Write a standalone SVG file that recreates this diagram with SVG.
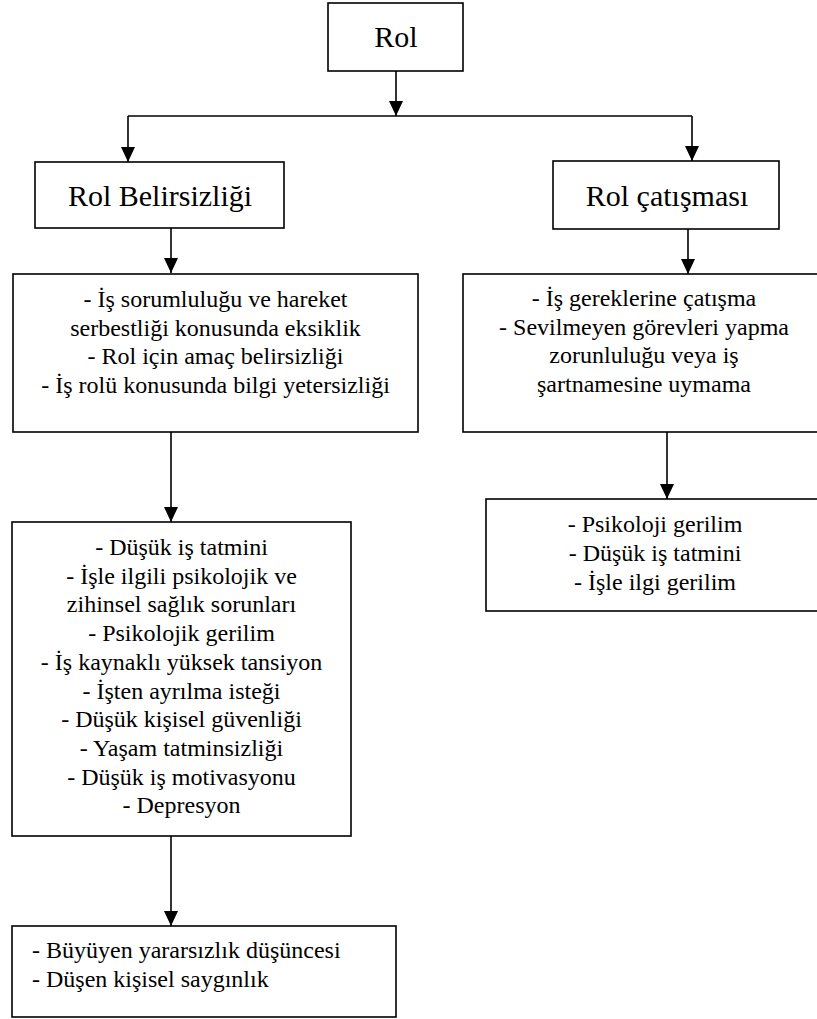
<svg xmlns="http://www.w3.org/2000/svg" width="817" height="1019" viewBox="0 0 817 1019">
<defs>
<marker id="a" markerWidth="15" markerHeight="14" refX="15" refY="7" orient="auto" markerUnits="userSpaceOnUse" viewBox="0 0 15 14">
<path d="M0,0 L15,7 L0,14 Z" fill="#000"/>
</marker>
</defs>
<g id="connectors" fill="none" stroke="#000" stroke-width="1.6">
<line x1="396" y1="71" x2="396" y2="116" marker-end="url(#a)"/>
<line x1="128" y1="116" x2="692" y2="116"/>
<line x1="128" y1="116" x2="128" y2="162" marker-end="url(#a)"/>
<line x1="692" y1="116" x2="692" y2="161" marker-end="url(#a)"/>
<line x1="171" y1="228" x2="171" y2="273" marker-end="url(#a)"/>
<line x1="688" y1="229" x2="688" y2="274" marker-end="url(#a)"/>
<line x1="171" y1="432" x2="171" y2="522" marker-end="url(#a)"/>
<line x1="667" y1="432" x2="667" y2="499" marker-end="url(#a)"/>
<line x1="171" y1="836" x2="171" y2="926" marker-end="url(#a)"/>
</g>
<g id="rol">
<rect x="328" y="3" width="135" height="68" fill="#fff" stroke="#000" stroke-width="1.6"/>
<text x="396" y="47" font-family="Liberation Serif" font-size="30" text-anchor="middle">Rol</text>
</g>
<g id="rol-belirsizligi">
<rect x="35" y="162" width="249" height="66" fill="#fff" stroke="#000" stroke-width="1.6"/>
<text x="160" y="206" font-family="Liberation Serif" font-size="30" text-anchor="middle">Rol Belirsizliği</text>
</g>
<g id="rol-catismasi">
<rect x="553" y="161" width="226" height="68" fill="#fff" stroke="#000" stroke-width="1.6"/>
<text x="667" y="206" font-family="Liberation Serif" font-size="30" text-anchor="middle">Rol çatışması</text>
</g>
<g id="belirsizlik-nedenleri">
<rect x="13" y="274" width="405" height="158" fill="#fff" stroke="#000" stroke-width="1.6"/>
<text x="215.5" y="307" font-family="Liberation Serif" font-size="24" text-anchor="middle">- İş sorumluluğu ve hareket</text>
<text x="215.5" y="336" font-family="Liberation Serif" font-size="24" text-anchor="middle">serbestliği konusunda eksiklik</text>
<text x="215.5" y="364" font-family="Liberation Serif" font-size="24" text-anchor="middle">- Rol için amaç belirsizliği</text>
<text x="215.5" y="393" font-family="Liberation Serif" font-size="24" text-anchor="middle">- İş rolü konusunda bilgi yetersizliği</text>
</g>
<g id="catisma-nedenleri">
<rect x="463" y="274" width="363" height="158" fill="#fff" stroke="#000" stroke-width="1.6"/>
<text x="644" y="306" font-family="Liberation Serif" font-size="24" text-anchor="middle">- İş gereklerine çatışma</text>
<text x="644" y="335" font-family="Liberation Serif" font-size="24" text-anchor="middle">- Sevilmeyen görevleri yapma</text>
<text x="644" y="363" font-family="Liberation Serif" font-size="24" text-anchor="middle">zorunluluğu veya iş</text>
<text x="644" y="392" font-family="Liberation Serif" font-size="24" text-anchor="middle">şartnamesine uymama</text>
</g>
<g id="catisma-sonuclari">
<rect x="486" y="499" width="340" height="112" fill="#fff" stroke="#000" stroke-width="1.6"/>
<text x="655" y="532" font-family="Liberation Serif" font-size="24" text-anchor="middle">- Psikoloji gerilim</text>
<text x="655" y="561" font-family="Liberation Serif" font-size="24" text-anchor="middle">- Düşük iş tatmini</text>
<text x="655" y="590" font-family="Liberation Serif" font-size="24" text-anchor="middle">- İşle ilgi gerilim</text>
</g>
<g id="belirsizlik-sonuclari">
<rect x="12" y="522" width="339" height="314" fill="#fff" stroke="#000" stroke-width="1.6"/>
<text x="181.5" y="555" font-family="Liberation Serif" font-size="24" text-anchor="middle">- Düşük iş tatmini</text>
<text x="181.5" y="584" font-family="Liberation Serif" font-size="24" text-anchor="middle">- İşle ilgili psikolojik ve</text>
<text x="181.5" y="612" font-family="Liberation Serif" font-size="24" text-anchor="middle">zihinsel sağlık sorunları</text>
<text x="181.5" y="641" font-family="Liberation Serif" font-size="24" text-anchor="middle">- Psikolojik gerilim</text>
<text x="181.5" y="670" font-family="Liberation Serif" font-size="24" text-anchor="middle">- İş kaynaklı yüksek tansiyon</text>
<text x="181.5" y="699" font-family="Liberation Serif" font-size="24" text-anchor="middle">- İşten ayrılma isteği</text>
<text x="181.5" y="727" font-family="Liberation Serif" font-size="24" text-anchor="middle">- Düşük kişisel güvenliği</text>
<text x="181.5" y="756" font-family="Liberation Serif" font-size="24" text-anchor="middle">- Yaşam tatminsizliği</text>
<text x="181.5" y="785" font-family="Liberation Serif" font-size="24" text-anchor="middle">- Düşük iş motivasyonu</text>
<text x="181.5" y="813" font-family="Liberation Serif" font-size="24" text-anchor="middle">- Depresyon</text>
</g>
<g id="son-sonuclar">
<rect x="12" y="926" width="384" height="91" fill="#fff" stroke="#000" stroke-width="1.6"/>
<text x="32" y="958" font-family="Liberation Serif" font-size="24">- Büyüyen yararsızlık düşüncesi</text>
<text x="32" y="987" font-family="Liberation Serif" font-size="24">- Düşen kişisel saygınlık</text>
</g>
</svg>
